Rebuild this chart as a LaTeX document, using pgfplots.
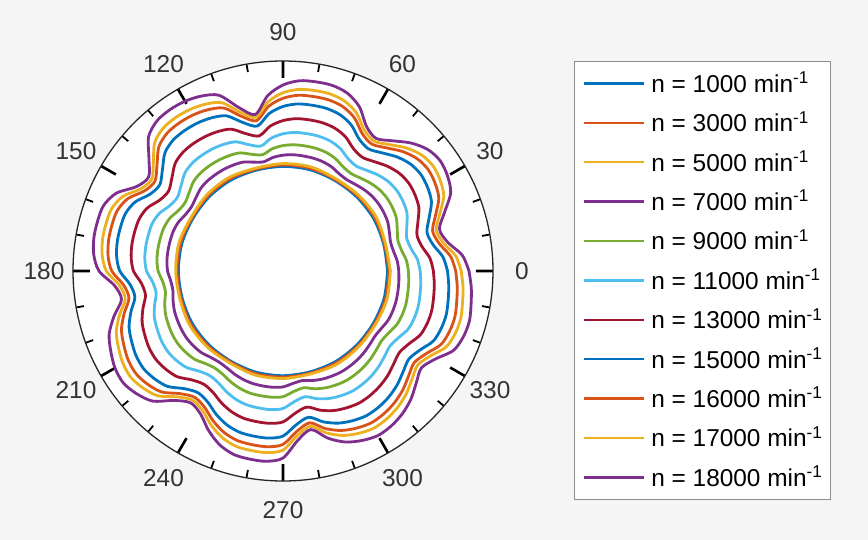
\documentclass[border=0pt]{standalone}
\usepackage{pgfplots}
\pgfplotsset{compat=1.18}
\usepackage{pgfplotstable}
\usepgfplotslibrary{polar}
\usepackage{fontspec}
\setmainfont{Liberation Sans}

\definecolor{c1}{rgb}{0,0.447,0.741}
\definecolor{c2}{rgb}{0.85,0.325,0.098}
\definecolor{c3}{rgb}{0.929,0.694,0.125}
\definecolor{c4}{rgb}{0.494,0.184,0.556}
\definecolor{c5}{rgb}{0.466,0.674,0.188}
\definecolor{c6}{rgb}{0.301,0.745,0.933}
\definecolor{c7}{rgb}{0.635,0.078,0.184}

% radius (arbitrary units, outer circle = 210) versus angle in degrees
\pgfplotstableread{
angle s18 s17 s16 s15 s13 s11 s9 s7
0 186 178.2 172.7 164.5 150.4 137.2 125.4 115.8
5 180 173.3 168.2 160.6 147.5 134.9 123.8 114.7
10 167 162.7 158.6 152.3 141.1 129.9 120.3 112.3
15 162 158.6 154.9 149.1 138.7 128.0 118.9 111.4
20 172 166.8 162.3 155.5 143.6 131.8 121.6 113.2
25 185 177.4 171.9 163.8 149.9 136.8 125.1 115.6
30 190 181.5 175.6 167.0 152.4 138.7 126.5 116.5
35 192 183.2 177.1 168.3 153.4 139.4 127.0 116.8
40 189 180.7 174.9 166.4 151.9 138.3 126.2 116.3
45 181 174.1 169.0 161.3 148.0 135.3 124.0 114.9
50 170 165.1 160.8 154.2 142.6 131.1 121.1 112.9
55 162 158.6 154.9 149.1 138.7 128.0 118.9 111.4
60 167 162.7 158.6 152.3 141.1 129.9 120.3 112.3
65 181 174.1 169.0 161.3 148.0 135.3 124.0 114.9
70 189 180.7 174.9 166.4 151.9 138.3 126.2 116.3
75 192 183.2 177.1 168.3 153.4 139.4 127.0 116.8
80 192 183.2 177.1 168.3 153.4 139.4 127.0 116.8
85 191 182.3 176.4 167.7 152.9 139.1 126.7 116.7
90 186 178.2 172.7 164.5 150.4 137.2 125.4 115.8
95 176 170.0 165.3 158.1 145.5 133.4 122.7 114.0
100 159 156.1 152.7 147.2 137.2 126.9 118.1 110.9
105 169 164.3 160.1 153.6 142.1 130.7 120.8 112.7
110 187 179.1 173.4 165.1 150.9 137.5 125.7 115.9
115 193 184.0 177.9 169.0 153.9 139.8 127.3 117.0
120 196 186.4 180.1 170.9 155.3 141.0 128.1 117.6
125 197 187.3 180.8 171.5 155.8 141.3 128.4 117.7
130 196 186.4 180.1 170.9 155.3 141.0 128.1 117.6
135 190 181.5 175.6 167.0 152.4 138.7 126.5 116.5
140 175 169.2 164.5 157.4 145.0 133.0 122.4 113.8
145 164 160.2 156.4 150.4 139.6 128.8 119.4 111.8
150 169 164.3 160.1 153.6 142.1 130.7 120.8 112.7
155 184 176.6 171.2 163.2 149.5 136.4 124.9 115.4
160 191 182.3 176.4 167.7 152.9 139.1 126.7 116.7
165 192 183.2 177.1 168.3 153.4 139.4 127.0 116.8
170 192 183.2 177.1 168.3 153.4 139.4 127.0 116.8
175 190 181.5 175.6 167.0 152.4 138.7 126.5 116.5
180 184 176.6 171.2 163.2 149.5 136.4 124.9 115.4
185 169 164.3 160.1 153.6 142.1 130.7 120.8 112.7
190 164 160.2 156.4 150.4 139.6 128.8 119.4 111.8
195 175 169.2 164.5 157.4 145.0 133.0 122.4 113.8
200 185 177.4 171.9 163.8 149.9 136.8 125.1 115.6
205 190 181.5 175.6 167.0 152.4 138.7 126.5 116.5
210 194 184.8 178.6 169.6 154.4 140.2 127.6 117.2
215 195 185.6 179.3 170.2 154.8 140.6 127.8 117.4
220 191 182.3 176.4 167.7 152.9 139.1 126.7 116.7
225 184 176.6 171.2 163.2 149.5 136.4 124.9 115.4
230 169 164.3 160.1 153.6 142.1 130.7 120.8 112.7
235 161 157.7 154.2 148.5 138.2 127.7 118.6 111.3
240 165 161.0 157.1 151.0 140.1 129.2 119.7 112.0
245 176 170.0 165.3 158.1 145.5 133.4 122.7 114.0
250 185 177.4 171.9 163.8 149.9 136.8 125.1 115.6
255 190 181.5 175.6 167.0 152.4 138.7 126.5 116.5
260 191 182.3 176.4 167.7 152.9 139.1 126.7 116.7
265 191 182.3 176.4 167.7 152.9 139.1 126.7 116.7
270 187 179.1 173.4 165.1 150.9 137.5 125.7 115.9
275 170 165.1 160.8 154.2 142.6 131.1 121.1 112.9
280 161 157.7 154.2 148.5 138.2 127.7 118.6 111.3
285 173 167.6 163.1 156.2 144.1 132.2 121.9 113.4
290 182 175.0 169.7 161.9 148.5 135.6 124.3 115.0
295 187 179.1 173.4 165.1 150.9 137.5 125.7 115.9
300 190 181.5 175.6 167.0 152.4 138.7 126.5 116.5
305 189 180.7 174.9 166.4 151.9 138.3 126.2 116.3
310 186 178.2 172.7 164.5 150.4 137.2 125.4 115.8
315 181 174.1 169.0 161.3 148.0 135.3 124.0 114.9
320 174 168.4 163.8 156.8 144.5 132.6 122.1 113.6
325 169 164.3 160.1 153.6 142.1 130.7 120.8 112.7
330 176 170.0 165.3 158.1 145.5 133.4 122.7 114.0
335 188 179.9 174.2 165.8 151.4 137.9 125.9 116.1
340 192 183.2 177.1 168.3 153.4 139.4 127.0 116.8
345 193 184.0 177.9 169.0 153.9 139.8 127.3 117.0
350 191 182.3 176.4 167.7 152.9 139.1 126.7 116.7
355 189 180.7 174.9 166.4 151.9 138.3 126.2 116.3
360 186 178.2 172.7 164.5 150.4 137.2 125.4 115.8
}\outerdata

\pgfplotstableread{
angle s5 s3 s1
0 107.4 106.1 104.6
15 106.0 105.1 104.2
30 107.7 106.2 104.7
45 107.1 105.9 104.5
60 106.3 105.3 104.3
75 107.8 106.3 104.8
90 107.4 106.1 104.6
105 106.4 105.4 104.3
120 108.0 106.5 104.8
135 107.7 106.2 104.7
150 106.4 105.4 104.3
165 107.8 106.3 104.8
180 107.3 106.0 104.6
195 106.8 105.6 104.4
210 107.9 106.4 104.8
225 107.3 106.0 104.6
240 106.2 105.2 104.2
255 107.7 106.2 104.7
270 107.5 106.1 104.7
285 106.6 105.6 104.4
300 107.7 106.2 104.7
315 107.1 105.9 104.5
330 106.8 105.7 104.4
345 107.8 106.4 104.8
360 107.4 106.1 104.6
}\innerdata

\begin{document}
\begin{tikzpicture}
\fill[black!4] (-141.5pt,135.5pt) rectangle (292.5pt,-134.5pt);
\begin{polaraxis}[
  at={(0,0)}, anchor=center,
  width=210pt, height=210pt, scale only axis,
  ymin=0, ymax=210, ytick=\empty,
  xtick={0,30,...,330},
  minor xtick={0,10,...,350},
  xmajorgrids=false, xminorgrids=false, ymajorgrids=false, yminorgrids=false,
  y axis line style={draw=none},
  tick align=outside,
  major tick length=8.5pt, minor tick length=4pt,
  every major tick/.append style={line width=1.3pt, black},
  every minor tick/.append style={line width=0.9pt, black},
  axis line style={line width=0.65pt, black!85},
  axis background/.style={fill=white},
  /pgf/number format/assume math mode=true,
  xticklabel style={font=\fontsize{12.2}{14}\selectfont, text=black!80,
    anchor=center, shift={(\tick:23pt)}},
  legend style={at={(1.193,1.001)}, anchor=north west, draw=black!45,
    line width=0.6pt, fill=white, font=\fontsize{12.2}{14}\selectfont,
    inner xsep=3.85pt, inner ysep=6.6pt, row sep=10.7pt, column sep=3.3pt,
    nodes={inner sep=0pt, text height=9pt, text depth=0pt}},
  legend cell align=left,
  legend image code/.code={\draw[#1, line width=1.2pt] (0pt,0pt) -- (30pt,0pt);},
]
\addplot[c1, line width=1.4pt, no markers, smooth] table[x=angle, y=s1] {\innerdata};
\addlegendentry{n = 1000 min\textsuperscript{-1}}
\addplot[c2, line width=1.4pt, no markers, smooth] table[x=angle, y=s3] {\innerdata};
\addlegendentry{n = 3000 min\textsuperscript{-1}}
\addplot[c3, line width=1.4pt, no markers, smooth] table[x=angle, y=s5] {\innerdata};
\addlegendentry{n = 5000 min\textsuperscript{-1}}
\addplot[c4, line width=1.4pt, no markers, smooth] table[x=angle, y=s7] {\outerdata};
\addlegendentry{n = 7000 min\textsuperscript{-1}}
\addplot[c5, line width=1.4pt, no markers, smooth] table[x=angle, y=s9] {\outerdata};
\addlegendentry{n = 9000 min\textsuperscript{-1}}
\addplot[c6, line width=1.4pt, no markers, smooth] table[x=angle, y=s11] {\outerdata};
\addlegendentry{n = 11000 min\textsuperscript{-1}}
\addplot[c7, line width=1.4pt, no markers, smooth] table[x=angle, y=s13] {\outerdata};
\addlegendentry{n = 13000 min\textsuperscript{-1}}
\addplot[c1, line width=1.4pt, no markers, smooth] table[x=angle, y=s15] {\outerdata};
\addlegendentry{n = 15000 min\textsuperscript{-1}}
\addplot[c2, line width=1.4pt, no markers, smooth] table[x=angle, y=s16] {\outerdata};
\addlegendentry{n = 16000 min\textsuperscript{-1}}
\addplot[c3, line width=1.4pt, no markers, smooth] table[x=angle, y=s17] {\outerdata};
\addlegendentry{n = 17000 min\textsuperscript{-1}}
\addplot[c4, line width=1.4pt, no markers, smooth] table[x=angle, y=s18] {\outerdata};
\addlegendentry{n = 18000 min\textsuperscript{-1}}
\end{polaraxis}
\end{tikzpicture}
\end{document}
